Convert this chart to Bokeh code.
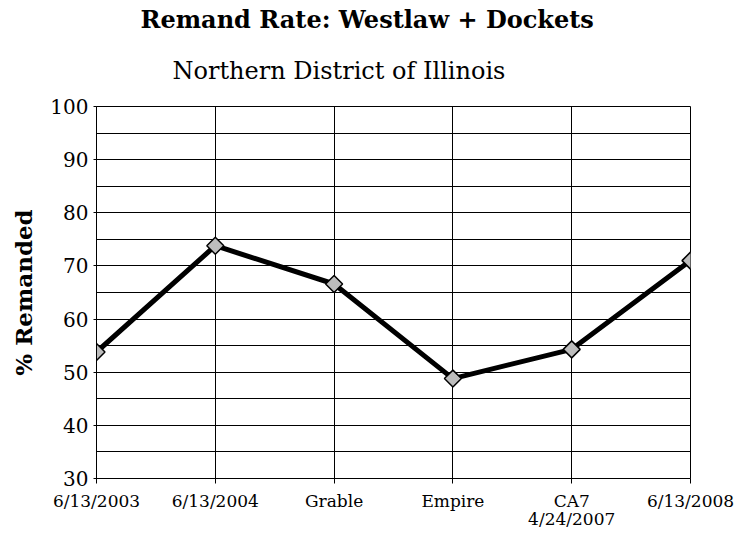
import math
from bokeh.plotting import figure
from bokeh.models import FixedTicker, Range1d, Title
from bokeh.embed import file_html
from bokeh.resources import INLINE

categories = ["6/13/2003", "6/13/2004", "Grable", "Empire", "CA7\n4/24/2007", "6/13/2008"]
remanded = [53.8, 73.8, 66.6, 48.8, 54.3, 71.0]
y_ticks = [30, 40, 50, 60, 70, 80, 90, 100]
grid_ticks = [30, 35, 40, 45, 50, 55, 60, 65, 70, 75, 80, 85, 90, 95, 100]

xs = list(range(len(categories)))
SERIF = "DejaVu Serif"

p = figure(width=736, height=535, output_backend="svg", toolbar_location=None,
           x_range=Range1d(0, len(categories) - 1), y_range=Range1d(30, 100),
           min_border_left=96, min_border_right=46, min_border_top=106, min_border_bottom=57)
p.outline_line_color = "black"
p.outline_line_width = 1

p.add_layout(Title(text="Northern District of Illinois", text_font=SERIF,
                   text_font_size="24px", text_font_style="normal", text_color="black",
                   align="left", offset=76, standoff=43), "above")
p.add_layout(Title(text="Remand Rate: Westlaw + Dockets", text_font=SERIF,
                   text_font_size="24px", text_font_style="bold", text_color="black",
                   align="left", offset=44, standoff=0), "above")

p.xaxis.ticker = FixedTicker(ticks=xs)
p.xaxis.major_label_overrides = {i: c for i, c in enumerate(categories)}
p.xaxis.major_label_text_font = SERIF
p.xaxis.major_label_text_font_size = "17px"
p.xaxis.major_label_text_color = "black"
p.xaxis.major_label_text_line_height = 0.9
p.xaxis.axis_line_color = "black"
p.xaxis.major_tick_out = 5
p.xaxis.major_tick_in = 0
p.xaxis.minor_tick_line_color = None
p.xaxis.major_label_standoff = 7

p.yaxis.ticker = FixedTicker(ticks=y_ticks)
p.yaxis.major_label_text_font = SERIF
p.yaxis.major_label_text_font_size = "20px"
p.yaxis.major_label_text_color = "black"
p.yaxis.axis_line_color = "black"
p.yaxis.major_tick_out = 3
p.yaxis.major_tick_in = 0
p.yaxis.minor_tick_line_color = None
p.yaxis.major_label_standoff = 5
p.yaxis.axis_label = "% Remanded"
p.yaxis.axis_label_text_font = SERIF
p.yaxis.axis_label_text_font_size = "23px"
p.yaxis.axis_label_text_font_style = "bold"
p.yaxis.axis_label_text_color = "black"
p.yaxis.axis_label_standoff = 10

p.xgrid.ticker = FixedTicker(ticks=xs)
p.xgrid.grid_line_color = "black"
p.xgrid.grid_line_width = 1
p.ygrid.ticker = FixedTicker(ticks=grid_ticks)
p.ygrid.grid_line_color = "black"
p.ygrid.grid_line_width = 1

p.line(xs, remanded, line_color="black", line_width=5)
p.scatter(xs, remanded, marker="square", angle=math.pi / 4, size=12,
          fill_color="#bdbdbd", line_color="black", line_width=1.5)

open("out.html", "w").write(file_html(p, INLINE))
